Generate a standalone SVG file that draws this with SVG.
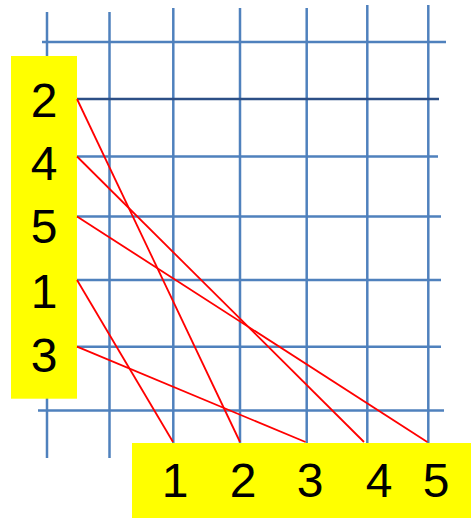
<svg xmlns="http://www.w3.org/2000/svg" width="471" height="518" viewBox="0 0 471 518">
<style>
.g{stroke:#4f81bd;stroke-width:2.5;fill:none}
.gd{stroke:#2c4f86;stroke-width:2.5;fill:none}
.box{fill:#ffff00}
.lbl{font-family:"Liberation Sans",Arial,sans-serif;font-size:48px;fill:#000;text-anchor:middle}
.c{stroke:#ff0000;stroke-width:1.8;fill:none}
</style>
<rect width="471" height="518" fill="#ffffff"/>
<g id="grid">
<line class="g" x1="47" y1="12" x2="47" y2="458"/>
<line class="g" x1="109.5" y1="12" x2="109.5" y2="458"/>
<line class="g" x1="173.3" y1="8" x2="173.3" y2="450"/>
<line class="g" x1="240" y1="8" x2="240" y2="450"/>
<line class="g" x1="306.7" y1="8" x2="306.7" y2="450"/>
<line class="g" x1="367.3" y1="5" x2="367.3" y2="450"/>
<line class="g" x1="428.3" y1="5" x2="428.3" y2="450"/>
<line class="g" x1="42" y1="42" x2="446" y2="42"/>
<line class="gd" x1="60" y1="99" x2="439" y2="99"/>
<line class="g" x1="60" y1="156.5" x2="438" y2="156.5"/>
<line class="g" x1="60" y1="216.5" x2="441" y2="216.5"/>
<line class="g" x1="60" y1="280" x2="441" y2="280"/>
<line class="g" x1="60" y1="346.7" x2="441" y2="346.7"/>
<line class="g" x1="38" y1="410.5" x2="444" y2="410.5"/>
</g>
<g id="left-labels">
<rect class="box" x="11" y="56" width="66" height="342.7"/>
<text class="lbl" x="44" y="117">2</text>
<text class="lbl" x="44" y="180">4</text>
<text class="lbl" x="44" y="243">5</text>
<text class="lbl" x="44" y="308">1</text>
<text class="lbl" x="44" y="372">3</text>
</g>
<g id="bottom-labels">
<rect class="box" x="132" y="443" width="339" height="75"/>
<text class="lbl" x="175" y="497">1</text>
<text class="lbl" x="243" y="497">2</text>
<text class="lbl" x="310" y="497">3</text>
<text class="lbl" x="379" y="497">4</text>
<text class="lbl" x="436" y="497">5</text>
</g>
<g id="connectors">
<line class="c" x1="77" y1="99" x2="240" y2="442"/>
<line class="c" x1="77" y1="156.5" x2="364" y2="442"/>
<line class="c" x1="77" y1="216.5" x2="427.3" y2="442"/>
<line class="c" x1="77" y1="280" x2="173" y2="442"/>
<line class="c" x1="77" y1="346.7" x2="305.5" y2="442"/>
</g>
</svg>
